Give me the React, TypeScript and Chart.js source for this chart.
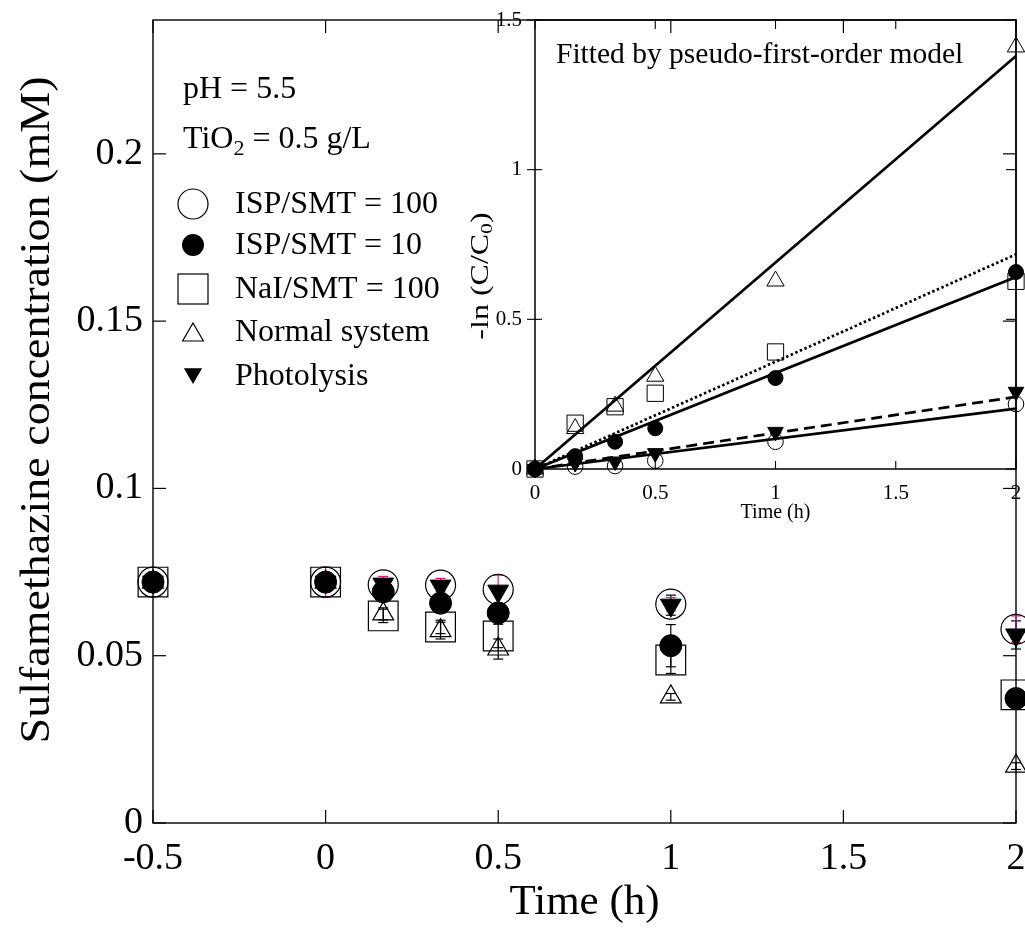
import React, { useEffect, useRef } from 'react';
import { Chart, registerables } from 'chart.js';

Chart.register(...registerables);

// ---------------- main chart data ----------------
const times = [-0.5, 0, 0.167, 0.333, 0.5, 1, 2];
const isp100 = [0.072, 0.072, 0.0712, 0.0711, 0.0698, 0.0654, 0.0579];
const isp10 = [0.072, 0.072, 0.0691, 0.0657, 0.0628, 0.053, 0.0372];
const nai100 = [0.072, 0.072, 0.0619, 0.0586, 0.0559, 0.0487, 0.0383];
const normal = [0.072, 0.072, 0.0625, 0.0575, 0.052, 0.0377, 0.017];
const photolysis = [0.072, 0.072, 0.0714, 0.0708, 0.0693, 0.0651, 0.0562];

const isp100Err = [0, 0.0045, 0.0025, 0.002, 0.0043, 0.002, 0.004];
const isp10Err = [0, 0, 0.001, 0.001, 0.001, 0.0063, 0.001];
const nai100Err = [0, 0, 0.002, 0.002, 0.0035, 0.004, 0.001];
const normalErr = [0, 0, 0.0018, 0.0025, 0.003, 0.001, 0.001];
const photolysisErr = [0, 0, 0.001, 0.001, 0.001, 0.003, 0.0042];

const mainXTicks = [-0.5, 0, 0.5, 1, 1.5, 2];
const mainXTickLabels = ['-0.5', '0', '0.5', '1', '1.5', '2'];
const mainYTicks = [0, 0.05, 0.1, 0.15, 0.2];
const mainYTickLabels = ['0', '0.05', '0.1', '0.15', '0.2'];

const legendLabels = ['ISP/SMT = 100', 'ISP/SMT = 10', 'NaI/SMT = 100', 'Normal system', 'Photolysis'];

// ---------------- inset data ----------------
const insetTimes = [0, 0.167, 0.333, 0.5, 1, 2];
const lnIsp100 = [0, 0.008, 0.01, 0.028, 0.091, 0.217];
const lnIsp10 = [0, 0.043, 0.091, 0.136, 0.304, 0.658];
const lnNai100 = [0, 0.153, 0.208, 0.253, 0.391, 0.627];
const lnNormal = [0, 0.135, 0.21, 0.31, 0.628, 1.41];
const lnPhotolysis = [0, 0.02, 0.025, 0.053, 0.124, 0.258];

const fitTimes = [0, 2];
const fitIsp100 = [0, 0.202];
const fitIsp10 = [0, 0.641];
const fitNai100 = [0, 0.717];
const fitNormal = [0, 1.38];
const fitPhotolysis = [0, 0.241];

const insetXTicks = [0, 0.5, 1, 1.5, 2];
const insetXTickLabels = ['0', '0.5', '1', '1.5', '2'];
const insetYTicks = [0, 0.5, 1, 1.5];
const insetYTickLabels = ['0', '0.5', '1', '1.5'];

const FONT = '"Liberation Serif", "Times New Roman", Times, serif';

const pts = (xs: number[], ys: number[]) => xs.map((x, i) => ({ x, y: ys[i] }));

type Seg = { t: string; sub?: boolean };
function drawSegs(ctx: CanvasRenderingContext2D, segs: Seg[], x: number, y: number, size: number, align: 'left' | 'center' | 'right') {
  const fm = `${size}px ${FONT}`;
  const fs = `${Math.round(size * 0.68)}px ${FONT}`;
  let total = 0;
  const widths = segs.map((s) => {
    ctx.font = s.sub ? fs : fm;
    const w = ctx.measureText(s.t).width;
    total += w;
    return w;
  });
  let cx = align === 'left' ? x : align === 'center' ? x - total / 2 : x - total;
  ctx.textAlign = 'left';
  segs.forEach((s, i) => {
    ctx.font = s.sub ? fs : fm;
    ctx.fillText(s.t, cx, s.sub ? y + size * 0.28 : y);
    cx += widths[i];
  });
}

function line(ctx: CanvasRenderingContext2D, x1: number, y1: number, x2: number, y2: number) {
  ctx.beginPath();
  ctx.moveTo(x1, y1);
  ctx.lineTo(x2, y2);
  ctx.stroke();
}

function tri(ctx: CanvasRenderingContext2D, x: number, y: number, r: number, down: boolean, fill: boolean) {
  const s = down ? -1 : 1;
  ctx.beginPath();
  ctx.moveTo(x, y - s * r);
  ctx.lineTo(x + 0.866 * r, y + s * 0.5 * r);
  ctx.lineTo(x - 0.866 * r, y + s * 0.5 * r);
  ctx.closePath();
  if (fill) ctx.fill();
  else ctx.stroke();
}

// ---------------- plugins ----------------
const mainFrame = {
  id: 'mainFrame',
  beforeDatasetsDraw(chart: any) {
    const ctx = chart.ctx as CanvasRenderingContext2D;
    const { left, right, top, bottom } = chart.chartArea;
    const xs = chart.scales.x;
    const ys = chart.scales.y;
    ctx.save();
    ctx.strokeStyle = '#000';
    ctx.lineWidth = 1.4;
    ctx.strokeRect(left, top, right - left, bottom - top);
    ctx.lineWidth = 1.2;
    const L = 13;
    mainXTicks.forEach((v) => {
      const px = xs.getPixelForValue(v);
      line(ctx, px, bottom, px, bottom - L);
      line(ctx, px, top, px, top + L);
    });
    mainYTicks.forEach((v) => {
      const py = ys.getPixelForValue(v);
      line(ctx, left, py, left + L, py);
      line(ctx, right, py, right - L, py);
    });
    // error bars (under the markers)
    ctx.lineWidth = 1.2;
    chart.data.datasets.forEach((ds: any) => {
      if (!ds.errors) return;
      ctx.strokeStyle = ds.errColor || '#000';
      ds.data.forEach((p: any, i: number) => {
        const e = ds.errors[i];
        if (!e) return;
        const px = xs.getPixelForValue(p.x);
        const y1 = ys.getPixelForValue(p.y - e);
        const y2 = ys.getPixelForValue(p.y + e);
        line(ctx, px, y1, px, y2);
        line(ctx, px - 5, y1, px + 5, y1);
        line(ctx, px - 5, y2, px + 5, y2);
      });
    });
    ctx.restore();
  },
};

const mainText = {
  id: 'mainText',
  afterDraw(chart: any) {
    const ctx = chart.ctx as CanvasRenderingContext2D;
    const xs = chart.scales.x;
    const ys = chart.scales.y;
    const { left } = chart.chartArea;
    ctx.save();
    ctx.fillStyle = '#000';
    ctx.strokeStyle = '#000';
    ctx.font = `38px ${FONT}`;
    ctx.textAlign = 'right';
    ctx.textBaseline = 'middle';
    mainYTicks.forEach((v, i) => ctx.fillText(mainYTickLabels[i], left - 10, ys.getPixelForValue(v)));
    ctx.textAlign = 'center';
    ctx.textBaseline = 'alphabetic';
    mainXTicks.forEach((v, i) => ctx.fillText(mainXTickLabels[i], xs.getPixelForValue(v), 869));
    ctx.font = `43px ${FONT}`;
    ctx.textBaseline = 'middle';
    ctx.fillText('Time (h)', (chart.chartArea.left + chart.chartArea.right) / 2, 903);
    ctx.save();
    ctx.translate(38, 410);
    ctx.rotate(-Math.PI / 2);
    ctx.scale(1.07, 1);
    ctx.font = `43px ${FONT}`;
    ctx.fillText('Sulfamethazine concentration (mM)', 0, 0);
    ctx.restore();
    ctx.textBaseline = 'middle';
    drawSegs(ctx, [{ t: 'pH = 5.5' }], 183, 90, 32, 'left');
    drawSegs(ctx, [{ t: 'TiO' }, { t: '2', sub: true }, { t: ' = 0.5 g/L' }], 183, 140, 32, 'left');
    const rows = [204, 245, 289, 332, 376];
    const sx = 193;
    ctx.lineWidth = 1.2;
    ctx.beginPath();
    ctx.arc(sx, rows[0], 15, 0, Math.PI * 2);
    ctx.stroke();
    ctx.beginPath();
    ctx.arc(sx, rows[1], 11, 0, Math.PI * 2);
    ctx.fill();
    ctx.strokeRect(sx - 15, rows[2] - 15, 30, 30);
    tri(ctx, sx, rows[3] + 3, 12, false, false);
    tri(ctx, sx, rows[4] - 2.5, 10.5, true, true);
    legendLabels.forEach((t, i) => drawSegs(ctx, [{ t }], 235, rows[i] + 1, 32, 'left'));
    ctx.restore();
  },
};

const insetDecor = {
  id: 'insetDecor',
  afterDraw(chart: any) {
    const ctx = chart.ctx as CanvasRenderingContext2D;
    const { left, right, top, bottom } = chart.chartArea;
    const xs = chart.scales.x;
    const ys = chart.scales.y;
    ctx.save();
    ctx.strokeStyle = '#000';
    ctx.fillStyle = '#000';
    ctx.lineWidth = 1.5;
    ctx.strokeRect(left, top, right - left, bottom - top);
    ctx.lineWidth = 1.1;
    insetXTicks.forEach((v) => {
      const px = xs.getPixelForValue(v);
      line(ctx, px, bottom, px, bottom - 8);
      line(ctx, px, top, px, top + 9);
    });
    insetYTicks.forEach((v) => {
      const py = ys.getPixelForValue(v);
      line(ctx, left - 8, py, left + 7, py);
      line(ctx, right, py, right - 10, py);
    });
    ctx.font = `21px ${FONT}`;
    ctx.textAlign = 'right';
    ctx.textBaseline = 'middle';
    insetYTicks.forEach((v, i) => ctx.fillText(insetYTickLabels[i], left - 13, ys.getPixelForValue(v)));
    ctx.textAlign = 'center';
    ctx.textBaseline = 'alphabetic';
    insetXTicks.forEach((v, i) => ctx.fillText(insetXTickLabels[i], xs.getPixelForValue(v), bottom + 30));
    ctx.textBaseline = 'middle';
    ctx.font = `20px ${FONT}`;
    ctx.fillText('Time (h)', (left + right) / 2, bottom + 44);
    ctx.save();
    ctx.translate(left - 54, 276);
    ctx.rotate(-Math.PI / 2);
    ctx.scale(1.28, 1);
    drawSegs(ctx, [{ t: '-ln (C/C' }, { t: '0', sub: true }, { t: ')' }], 0, 0, 25, 'center');
    ctx.restore();
    ctx.textBaseline = 'alphabetic';
    drawSegs(ctx, [{ t: 'Fitted by pseudo-first-order model' }], left + 21, 63, 29.5, 'left');
    ctx.restore();
  },
};

const openStyle = { borderColor: '#000', backgroundColor: 'rgba(0,0,0,0)', borderWidth: 1.2 };
const filledStyle = { borderColor: '#000', backgroundColor: '#000', borderWidth: 1 };

function mainConfig(): any {
  return {
    type: 'scatter',
    data: {
      datasets: [
        { label: legendLabels[4], data: pts(times, photolysis), pointStyle: 'triangle', pointRotation: 180, pointRadius: 12, ...filledStyle, errors: photolysisErr, errColor: '#000', clip: false },
        { label: legendLabels[1], data: pts(times, isp10), pointStyle: 'circle', pointRadius: 11, ...filledStyle, errors: isp10Err, errColor: '#000', clip: false },
        { label: legendLabels[3], data: pts(times, normal), pointStyle: 'triangle', pointRadius: 12, ...openStyle, errors: normalErr, errColor: '#000', clip: false },
        { label: legendLabels[0], data: pts(times, isp100), pointStyle: 'circle', pointRadius: 15, ...openStyle, errors: isp100Err, errColor: '#e0187f', clip: false },
        { label: legendLabels[2], data: pts(times, nai100), pointStyle: 'rect', pointRadius: 21, ...openStyle, errors: nai100Err, errColor: '#000', clip: false },
      ],
    },
    options: {
      responsive: false,
      animation: false,
      devicePixelRatio: 1,
      events: [],
      layout: { autoPadding: false, padding: { left: 153, top: 20, right: 9, bottom: 106 } },
      plugins: { legend: { display: false }, tooltip: { enabled: false } },
      scales: {
        x: { type: 'linear', min: -0.5, max: 2, grid: { display: false, drawTicks: false }, border: { display: false }, ticks: { display: false } },
        y: { type: 'linear', min: 0, max: 0.24, grid: { display: false, drawTicks: false }, border: { display: false }, ticks: { display: false } },
      },
    },
    plugins: [mainFrame, mainText],
  };
}

function insetConfig(): any {
  const fitLine = { showLine: true, pointRadius: 0, borderColor: '#000', borderWidth: 2.7, fill: false };
  return {
    type: 'scatter',
    data: {
      datasets: [
        { label: 'Photolysis', data: pts(insetTimes, lnPhotolysis), pointStyle: 'triangle', pointRotation: 180, pointRadius: 9, ...filledStyle, clip: false },
        { label: 'ISP/SMT = 10', data: pts(insetTimes, lnIsp10), pointStyle: 'circle', pointRadius: 7.5, ...filledStyle, clip: false },
        { label: 'Normal system', data: pts(insetTimes, lnNormal), pointStyle: 'triangle', pointRadius: 10, ...openStyle, borderWidth: 1, clip: false },
        { label: 'ISP/SMT = 100', data: pts(insetTimes, lnIsp100), pointStyle: 'circle', pointRadius: 7.8, ...openStyle, borderWidth: 1, clip: false },
        { label: 'NaI/SMT = 100', data: pts(insetTimes, lnNai100), pointStyle: 'rect', pointRadius: 11.5, ...openStyle, borderWidth: 1, clip: false },
        { label: 'fit normal', data: pts(fitTimes, fitNormal), ...fitLine },
        { label: 'fit NaI', data: pts(fitTimes, fitNai100), ...fitLine, borderDash: [2.5, 2.5] },
        { label: 'fit ISP10', data: pts(fitTimes, fitIsp10), ...fitLine },
        { label: 'fit photolysis', data: pts(fitTimes, fitPhotolysis), ...fitLine, borderDash: [11, 6] },
        { label: 'fit ISP100', data: pts(fitTimes, fitIsp100), ...fitLine },
      ],
    },
    options: {
      responsive: false,
      animation: false,
      devicePixelRatio: 1,
      events: [],
      layout: { autoPadding: false, padding: { left: 115, top: 20, right: 9, bottom: 76 } },
      plugins: { legend: { display: false }, tooltip: { enabled: false } },
      scales: {
        x: { type: 'linear', min: 0, max: 2, grid: { display: false, drawTicks: false }, border: { display: false }, ticks: { display: false } },
        y: { type: 'linear', min: 0, max: 1.5, grid: { display: false, drawTicks: false }, border: { display: false }, ticks: { display: false } },
      },
    },
    plugins: [insetDecor],
  };
}

export default function App() {
  const mainRef = useRef<HTMLCanvasElement>(null);
  const insetRef = useRef<HTMLCanvasElement>(null);
  useEffect(() => {
    const main = new Chart(mainRef.current as HTMLCanvasElement, mainConfig());
    const inset = new Chart(insetRef.current as HTMLCanvasElement, insetConfig());
    return () => {
      main.destroy();
      inset.destroy();
    };
  }, []);
  return (
    <div style={{ position: 'fixed', left: 0, top: 0, width: 1025, height: 929, background: '#fff', overflow: 'hidden' }}>
      <canvas ref={mainRef} width={1025} height={929} style={{ position: 'absolute', left: 0, top: 0, width: 1025, height: 929 }} />
      <canvas ref={insetRef} width={605} height={545} style={{ position: 'absolute', left: 420, top: 0, width: 605, height: 545 }} />
    </div>
  );
}
